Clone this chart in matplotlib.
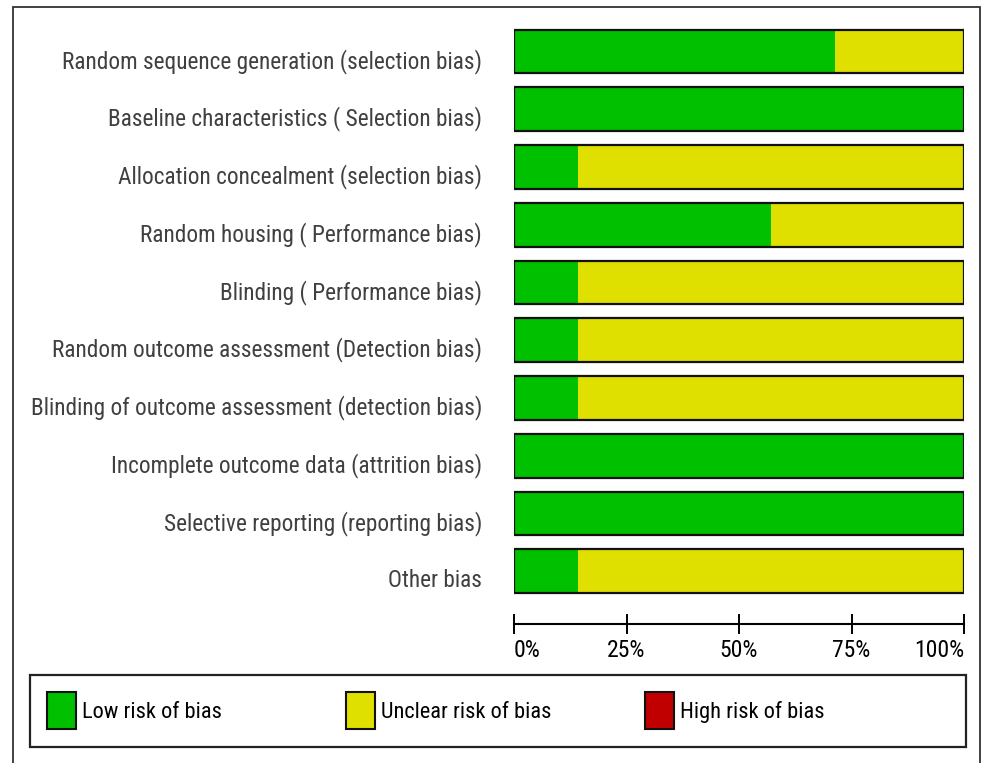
import matplotlib
matplotlib.use("Agg")
import matplotlib.pyplot as plt
import matplotlib.transforms as mtransforms
from matplotlib.patches import Rectangle

# domains of the risk of bias graph, top to bottom
domains = [
    "Random sequence generation (selection bias)",
    "Baseline characteristics ( Selection bias)",
    "Allocation concealment (selection bias)",
    "Random housing ( Performance bias)",
    "Blinding ( Performance bias)",
    "Random outcome assessment (Detection bias)",
    "Blinding of outcome assessment (detection bias)",
    "Incomplete outcome data (attrition bias)",
    "Selective reporting (reporting bias)",
    "Other bias",
]
# percent of studies per judgement
low = [71.4, 100, 14.3, 57.1, 14.3, 14.3, 14.3, 100, 100, 14.3]
unclear = [28.6, 0, 85.7, 42.9, 85.7, 85.7, 85.7, 0, 0, 85.7]
high = [0, 0, 0, 0, 0, 0, 0, 0, 0, 0]

categories = ["Low risk of bias", "Unclear risk of bias", "High risk of bias"]
colors = ["#00c000", "#e0e000", "#c00000"]
ticks = [0, 25, 50, 75, 100]
tick_labels = ["0%", "25%", "50%", "75%", "100%"]

W, H = 982, 763
fam = ["Roboto Condensed", "Liberation Sans", "DejaVu Sans"]
plt.rcParams["font.family"] = fam

fig = plt.figure(figsize=(W / 100, H / 100), dpi=100)
rend = fig.canvas.get_renderer()


def fit_size(s, target_px, size=16):
    # pick a font size so that the string s is about target_px wide
    t = fig.text(0, 0, s, fontsize=size)
    w = t.get_window_extent(rend).width
    t.remove()
    return size * target_px / w


lab_size = fit_size(domains[0], 421)
tick_size = fit_size("100%", 50)
leg_size = fit_size(categories[0], 140)


def fx(px):
    return px / W


def fy(py):
    return 1 - py / H


# outer frame
fig.add_artist(Rectangle((fx(13), fy(790)), fx(980) - fx(13), fy(7) - fy(790),
                         transform=fig.transFigure, fill=False, ec="#333333", lw=1.3))

top_px, bot_px = 22.6, 600.1
ax = fig.add_axes([fx(514), fy(bot_px), fx(964) - fx(514), fy(top_px) - fy(bot_px)])

y = list(range(len(domains)))
bh = 0.76
left = [0] * len(domains)
for vals, col in zip([low, unclear, high], colors):
    ax.barh(y, vals, left=left, height=bh, color=col, edgecolor="none", linewidth=0)
    left = [a + b for a, b in zip(left, vals)]
ax.barh(y, left, height=bh, color="none", edgecolor="#111111", linewidth=1.6)

ax.set_xlim(0, 100)
ax.set_ylim(len(domains) - 0.5, -0.5)
for s in ["top", "right", "left"]:
    ax.spines[s].set_visible(False)
ax.spines["bottom"].set_position(("outward", 17.3))
ax.spines["bottom"].set_bounds(0, 100)
ax.spines["bottom"].set_linewidth(1.5)
ax.set_yticks(y)
ax.set_yticklabels(domains, fontsize=lab_size, color="#404040")
ax.tick_params(axis="y", length=0, pad=23)
shift = mtransforms.ScaledTranslation(0, -0.07, fig.dpi_scale_trans)
for lab in ax.get_yticklabels():
    lab.set_transform(lab.get_transform() + shift)
ax.set_xticks(ticks)
ax.set_xticklabels(tick_labels, fontsize=tick_size)
ax.tick_params(axis="x", direction="inout", length=15, width=1.4, pad=3)
xl = ax.get_xticklabels()
xl[0].set_ha("left")
xl[-1].set_ha("right")

# legend box
fig.add_artist(Rectangle((fx(30), fy(747)), fx(966) - fx(30), fy(675) - fy(747),
                         transform=fig.transFigure, fill=False, ec="#222222", lw=1.6))
for i, (cat, col) in enumerate(zip(categories, colors)):
    x0 = 47 + i * 299
    fig.add_artist(Rectangle((fx(x0), fy(729)), fx(29), fy(692) - fy(729),
                             transform=fig.transFigure, fc=col, ec="#111111", lw=1.5))
    fig.text(fx(x0 + 35), fy(712), cat, fontsize=leg_size,
             va="center", ha="left", color="black")

fig.savefig("out.png", dpi=100)
